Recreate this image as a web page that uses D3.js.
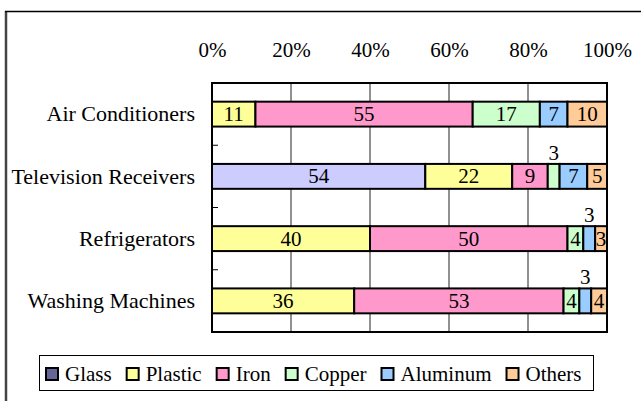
<!DOCTYPE html>
<html>
<head>
<meta charset="utf-8">
<script src="https://cdn.jsdelivr.net/npm/d3@7"></script>
<style>
  html, body { margin: 0; padding: 0; background: #fff; }
  svg { display: block; }
</style>
</head>
<body>
<svg id="chart" width="641" height="401"></svg>
<script>
// ---- data ----
const categories = ["Air Conditioners", "Television Receivers", "Refrigerators", "Washing Machines"];
const seriesNames = ["Glass", "Plastic", "Iron", "Copper", "Aluminum", "Others"];
const glass    = [0, 54, 0, 0];
const plastic  = [11, 22, 40, 36];
const iron     = [55, 9, 50, 53];
const copper   = [17, 3, 4, 4];
const aluminum = [7, 7, 3, 3];
const others   = [10, 5, 3, 4];
const tickValues = [0, 20, 40, 60, 80, 100];
const tickLabels = ["0%", "20%", "40%", "60%", "80%", "100%"];
// labels drawn above their (narrow) segment: [category, series]
const labelsAbove = [["Television Receivers", "Copper"], ["Refrigerators", "Aluminum"], ["Washing Machines", "Aluminum"]];

// ---- styles ----
const barColors = {Glass: "#ccccff", Plastic: "#ffff99", Iron: "#ff99cc", Copper: "#ccffcc", Aluminum: "#99ccff", Others: "#ffcc99"};
const legendColors = {Glass: "#666699", Plastic: "#ffff99", Iron: "#ff99cc", Copper: "#ccffcc", Aluminum: "#99ccff", Others: "#ffcc99"};
const FONT = 21;
const CAT_FONT = 22;
const FAMILY = "'Liberation Serif', 'Times New Roman', Times, 'DejaVu Serif', serif";

const valuesBySeries = [glass, plastic, iron, copper, aluminum, others];
const table = categories.map((c, i) => {
  const row = {category: c};
  seriesNames.forEach((s, j) => row[s] = valuesBySeries[j][i]);
  return row;
});

const svg = d3.select("#chart").style("font-family", FAMILY);

// outer frame (cropped chart area border)
svg.append("line").attr("x1", 6).attr("y1", 11).attr("x2", 6).attr("y2", 410)
  .attr("stroke", "#444").attr("stroke-width", 2.5);
svg.append("line").attr("x1", 5).attr("y1", 11.5).attr("x2", 650).attr("y2", 11.5)
  .attr("stroke", "#000").attr("stroke-width", 1.5);

const plot = {left: 212, right: 607, top: 83, bottom: 332};

const x = d3.scaleLinear().domain([0, 100]).range([plot.left, plot.right]);
const y = d3.scaleBand().domain(categories).range([plot.top, plot.bottom])
  .paddingInner(0.6).paddingOuter(0.3);

// gridlines
svg.append("g").selectAll("line").data(tickValues.slice(1, -1)).join("line")
  .attr("x1", d => x(d)).attr("x2", d => x(d))
  .attr("y1", plot.top).attr("y2", plot.bottom)
  .attr("stroke", "#222").attr("stroke-width", 1);

// plot border
svg.append("rect").attr("x", plot.left).attr("y", plot.top)
  .attr("width", plot.right - plot.left).attr("height", plot.bottom - plot.top)
  .attr("fill", "none").attr("stroke", "#000").attr("stroke-width", 2);

// top axis labels
const xAxis = d3.axisTop(x).tickValues(tickValues)
  .tickFormat((d, i) => tickLabels[i]).tickSize(0).tickPadding(0);
const gx = svg.append("g").attr("transform", `translate(0,57)`).call(xAxis);
gx.select(".domain").remove();
gx.attr("font-family", null).attr("font-size", null);
gx.selectAll("text").style("font-family", FAMILY).style("font-size", FONT + "px").attr("dy", 0).attr("fill", "#000");

// left category axis
const yAxis = d3.axisLeft(y).tickSize(0).tickPadding(17);
const gy = svg.append("g").attr("transform", `translate(${plot.left},0)`).call(yAxis);
gy.select(".domain").remove();
gy.attr("font-family", null).attr("font-size", null);
gy.selectAll("text").style("font-family", FAMILY).style("font-size", CAT_FONT + "px").attr("dy", "0.33em").attr("fill", "#000");

// inward ticks at category boundaries
const step = y.step();
const boundaries = categories.slice(1).map(c => y(c) - step * y.paddingInner() / 2);
svg.append("g").selectAll("line").data(boundaries).join("line")
  .attr("x1", plot.left).attr("x2", plot.left + 6)
  .attr("y1", d => d).attr("y2", d => d)
  .attr("stroke", "#000").attr("stroke-width", 1);

// stacked bars
const stack = d3.stack().keys(seriesNames)(table);
const layers = svg.append("g").selectAll("g").data(stack).join("g")
  .attr("fill", d => barColors[d.key]);
layers.selectAll("rect").data(d => d.map(p => ({p, key: d.key}))).join("rect")
  .filter(d => d.p[1] - d.p[0] > 0)
  .attr("x", d => x(d.p[0]))
  .attr("y", d => y(d.p.data.category))
  .attr("width", d => x(d.p[1]) - x(d.p[0]))
  .attr("height", y.bandwidth())
  .attr("stroke", "#000").attr("stroke-width", 2);

// value labels
const isAbove = (cat, key) => labelsAbove.some(([c, k]) => c === cat && k === key);
const labelData = [];
stack.forEach(layer => layer.forEach(p => {
  const v = p[1] - p[0];
  if (v > 0) labelData.push({cat: p.data.category, key: layer.key, v, mid: (p[0] + p[1]) / 2});
}));
svg.append("g").selectAll("text").data(labelData).join("text")
  .attr("x", d => x(d.mid))
  .attr("y", d => isAbove(d.cat, d.key) ? y(d.cat) - 4 : y(d.cat) + y.bandwidth() / 2)
  .attr("dy", d => isAbove(d.cat, d.key) ? 0 : "0.33em")
  .attr("text-anchor", "middle")
  .style("font-family", FAMILY).style("font-size", FONT + "px")
  .text(d => d.v);

// legend
const legend = svg.append("g");
legend.append("rect").attr("x", 39.5).attr("y", 355.5)
  .attr("width", 554).attr("height", 35)
  .attr("fill", "#fff").attr("stroke", "#000").attr("stroke-width", 1);
let lx = 46;
seriesNames.forEach(name => {
  legend.append("rect").attr("x", lx).attr("y", 368).attr("width", 12).attr("height", 12)
    .attr("fill", legendColors[name]).attr("stroke", "#000").attr("stroke-width", 2);
  const t = legend.append("text").attr("x", lx + 19).attr("y", 381)
    .style("font-family", FAMILY).style("font-size", FONT + "px").text(name);
  lx += 19 + t.node().getComputedTextLength() + 15;
});
</script>
</body>
</html>
